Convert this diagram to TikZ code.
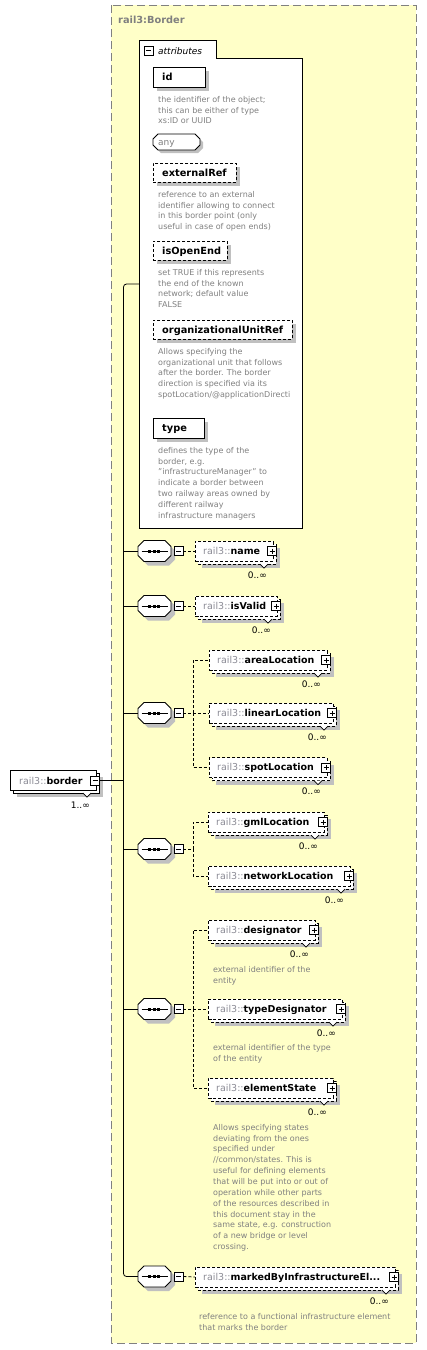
\documentclass[tikz,border=0pt]{standalone}
\usepackage{fontspec}
\setmainfont{DejaVu Sans}
\definecolor{ybg}{RGB}{255,255,200}
\definecolor{shd}{RGB}{192,192,192}
\definecolor{dgr}{RGB}{128,128,128}
\definecolor{pgr}{RGB}{140,140,150}
\newcommand\enm[1]{{\color{pgr}\mdseries rail3::}{\bfseries #1}}
\tikzset{
 dsh/.style={dash pattern=on 3pt off 2pt},
 ln/.style={line width=0.8pt},
 wbox/.style={draw, fill=white, line width=0.8pt, inner sep=0pt},
 desc/.style={anchor=north west, inner sep=0pt, align=left, text=dgr, font=\fontsize{8}{10.85}\selectfont},
 mult/.style={anchor=base east, inner sep=0pt, font=\fontsize{9}{10}\selectfont},
 ename/.style={anchor=base west, inner sep=0pt, font=\fontsize{9.5}{11}\selectfont},
 aname/.style={anchor=base west, inner sep=0pt, font=\fontsize{9.8}{11}\selectfont\bfseries},
 pmbox/.style={draw, fill=white, line width=0.7pt, minimum width=9pt, minimum height=9pt, inner sep=0pt},
 plusbox/.style={pmbox, path picture={\draw[line width=0.7pt] ([xshift=2pt]path picture bounding box.west) -- ([xshift=-2pt]path picture bounding box.east) ([yshift=-2pt]path picture bounding box.north) -- ([yshift=2pt]path picture bounding box.south);}},
 minusbox/.style={pmbox, path picture={\draw[line width=0.7pt] ([xshift=2pt]path picture bounding box.west) -- ([xshift=-2pt]path picture bounding box.east);}},
 anchorbox/.style={draw=none, inner sep=0pt},
}
% octagon: #1 x0, #2 y0, #3 x1, #4 y1, #5 chamfer, #6 options
\newcommand\oct[6]{%
 \path[#6] ({#1+#5},#2) -- ({#3-#5},#2) -- (#3,{#2+#5}) -- (#3,{#4-#5}) -- ({#3-#5},#4) -- ({#1+#5},#4) -- (#1,{#4-#5}) -- (#1,{#2+#5}) -- cycle;}
% element box: #1 name, #2 x0, #3 x1, #4 centre y, #5 text, #6 line style
\newcommand\elem[6]{%
 \fill[shd] ({#2+7},{#4-3}) rectangle ({#3+7},{#4+17});
 \draw[ln,#6,fill=white] ({#2+3},{#4-7}) rectangle ({#3+3},{#4+13});
 \node[wbox,#6,anchor=west,minimum width={#3-#2},minimum height=20pt] (#1) at (#2,#4) {};
 \node[ename] (#1-t) at ({#2+8},{#4+3.4}) {\enm{#5}};
 \node[plusbox] (#1-p) at ({#3-1},#4) {};
 \draw[line width=0.7pt,fill=white] ({#3-13},{#4+13}) -- ({#3-9},{#4+17}) -- ({#3-5},{#4+13});
 \node[mult] (#1-m) at ({#3-6},{#4+27}) {0..∞};
}
% attribute box: #1 name, #2 x0, #3 y0, #4 x1, #5 y1, #6 style, #7 text
\newcommand\attr[7]{%
 \fill[shd] ({#2+4},{#3+4}) rectangle ({#4+4},{#5+4});
 \node[wbox,#6,anchor=north west,minimum width={#4-#2},minimum height={#5-#3}] (#1) at (#2,#3) {};
 \node[aname] (#1-t) at ({#2+9},{(#3+#5)/2+3.6}) {#7};
}
% sequence compositor: #1 name, #2 centre y
\newcommand\seqc[2]{%
 \oct{142}{#2-6.5}{175}{#2+14.5}{6}{fill=shd}
 \oct{138}{#2-10.5}{171}{#2+10.5}{6}{draw, fill=white, line width=0.8pt}
 \node[anchorbox, minimum width=33pt, minimum height=21pt] (#1) at (154.5,#2) {};
 \draw[line width=0.8pt] (141.5,#2) -- (167.5,#2);
 \fill (148,{#2-1.5}) rectangle (151,{#2+1.5});
 \fill (152.5,{#2-1.5}) rectangle (155.5,{#2+1.5});
 \fill (157,{#2-1.5}) rectangle (160,{#2+1.5});
 \node[minusbox] (#1-m) at (178.5,#2) {};
}
\begin{document}
\begin{tikzpicture}[x=1pt,y=-1pt]
\useasboundingbox (0,0) rectangle (427,1350);
% outer complex type box
\draw[draw=dgr, fill=ybg, line width=1pt, dash pattern=on 8pt off 4pt] (111,5) rectangle (416,1343);
\node[anchor=base west, inner sep=0pt, font=\fontsize{9.8}{11}\selectfont\bfseries, text=dgr] (title) at (118,23.5) {rail3:Border};
% attributes panel
\draw[ln, fill=white] (139,40) -- (216,40) -- (216,58) -- (302,58) -- (302,528) -- (139,528) -- cycle;
\coordinate (attp) at (139,284);
\node[minusbox] (attr-m) at (148.5,50.5) {};
\node[anchor=base west, inner sep=0pt, font=\fontsize{9}{10}\selectfont\itshape] (attrlbl) at (158,54) {attributes};
\attr{id}{153}{67}{205}{87}{solid}{id}
\node[desc] (id-d) at (158,96) {the identifier of the object;\\this can be either of type\\xs:ID or UUID};
% any
\oct{156}{137}{203}{153}{5}{fill=shd}
\oct{153}{134}{200}{150}{5}{draw, fill=white, line width=0.8pt}
\node[anchorbox, minimum width=47pt, minimum height=16pt] (any) at (176.5,142) {};
\node[anchor=base west, inner sep=0pt, text=dgr, font=\fontsize{9}{10}\selectfont] (any-t) at (158,145.5) {any};
\attr{extref}{153}{163}{236}{182}{dsh}{externalRef}
\node[desc] (extref-d) at (158,191) {reference to an external\\identifier allowing to connect\\in this border point (only\\useful in case of open ends)};
\attr{openend}{153}{241}{227}{260}{dsh}{isOpenEnd}
\node[desc] (openend-d) at (158,269) {set TRUE if this represents\\the end of the known\\network; default value\\FALSE};
\attr{orgref}{153}{320}{292}{339}{dsh}{organizationalUnitRef}
\node[desc] (orgref-d) at (158,348) {Allows specifying the\\organizational unit that follows\\after the border. The border\\direction is specified via its\\spotLocation/@applicationDirecti};
\attr{type}{153}{418}{204}{438}{solid}{type}
\node[desc] (type-d) at (158,447) {defines the type of the\\border, e.g.\\"infrastructureManager" to\\indicate a border between\\two railway areas owned by\\different railway\\infrastructure managers};
% root element
\fill[shd] (17,777) rectangle (103,797);
\draw[ln,fill=white] (13,773) rectangle (99,793);
\node[wbox, anchor=north west, minimum width=86pt, minimum height=20pt] (border) at (10,770) {};
\node[ename] (border-t) at (19,784.4) {\enm{border}};
\node[minusbox] (border-m) at (95,780.5) {};
\draw[line width=0.7pt,fill=white] (83,793) -- (87,797) -- (91,793);
\node[mult] (border-mult) at (90,808) {1..∞};
% sequences
\seqc{s1}{551}
\seqc{s2}{606}
\seqc{s3}{713}
\seqc{s4}{849}
\seqc{s5}{1009}
\seqc{s6}{1276.5}
% trunk
\coordinate (tt) at (123.5,284);
\coordinate (tb) at (123.5,1276.5);
\draw[ln, rounded corners=3pt] (attp) -- (tt) -- (tb) -- (s6.west);
\draw[ln] (border-m.east) -- (border-m.east -| tt);
\foreach \s in {s1,s2,s3,s4,s5} \draw[ln] (\s.west -| tt) -- (\s.west);
% elements
\elem{name}{195}{273}{551}{name}{dsh}
\elem{valid}{195}{277}{606}{isValid}{dsh}
\elem{area}{209}{327}{660}{areaLocation}{dsh}
\elem{linear}{209}{333}{713}{linearLocation}{dsh}
\elem{spot}{209}{327}{767.5}{spotLocation}{dsh}
\elem{gml}{208}{324}{822}{gmlLocation}{dsh}
\elem{network}{208}{350}{876}{networkLocation}{dsh}
\elem{desig}{208}{315}{930}{designator}{dsh}
\elem{tdesig}{208}{342}{1009}{typeDesignator}{dsh}
\elem{state}{208}{333}{1088}{elementState}{dsh}
\elem{marked}{195}{395}{1277}{markedByInfrastructureEl...}{dsh}
\node[desc] (desig-d) at (213,966) {external identifier of the\\entity};
\node[desc] (tdesig-d) at (213,1044) {external identifier of the type\\of the entity};
\node[desc] (state-d) at (213,1124) {Allows specifying states\\deviating from the ones\\specified under\\//common/states. This is\\useful for defining elements\\that will be put into or out of\\operation while other parts\\of the resources described in\\this document stay in the\\same state, e.g. construction\\of a new bridge or level\\crossing.};
\node[desc] (marked-d) at (199,1313) {reference to a functional infrastructure element\\that marks the border};
% dashed connectors
\coordinate (j3) at (193,713);
\coordinate (j4) at (193,849);
\coordinate (j5) at (193,1009);
\draw[ln,dsh] (s1-m.east) -- (name.west);
\draw[ln,dsh] (s2-m.east) -- (valid.west);
\draw[ln,dsh] (s3-m.east) -- (j3) -- (linear.west);
\draw[ln,dsh] (j3) |- (area.west);
\draw[ln,dsh] (j3) |- (spot.west);
\draw[ln,dsh] (s4-m.east) -- (j4);
\draw[ln,dsh] (j4) |- (gml.west);
\draw[ln,dsh] (j4) |- (network.west);
\draw[ln,dsh] (s5-m.east) -- (j5) -- (tdesig.west);
\draw[ln,dsh] (j5) |- (desig.west);
\draw[ln,dsh] (j5) |- (state.west);
\draw[ln,dsh] (s6-m.east) -- (marked.west);
\end{tikzpicture}
\end{document}
